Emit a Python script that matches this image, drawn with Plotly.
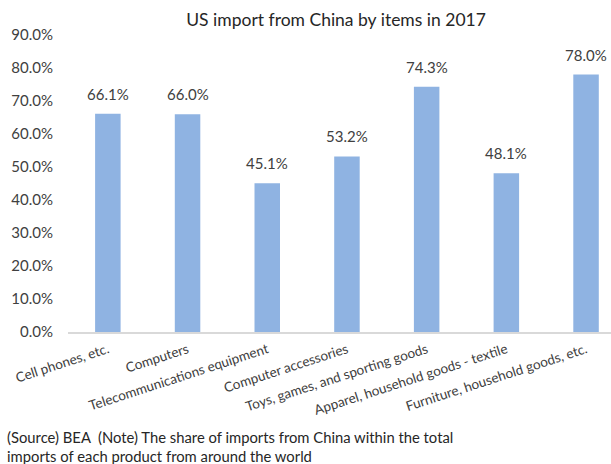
import plotly.graph_objects as go

categories = [
    "Cell phones, etc.",
    "Computers",
    "Telecommunications equipment",
    "Computer accessories",
    "Toys, games, and sporting goods",
    "Apparel, household goods - textile",
    "Furniture, household goods, etc.",
]
shares = [66.1, 66.0, 45.1, 53.2, 74.3, 48.1, 78.0]
y_ticks = [0, 10, 20, 30, 40, 50, 60, 70, 80, 90]
y_tick_labels = [f"{v:.1f}%" for v in y_ticks]

FONT = "Lato"
TEXT = "#404040"

xs = list(range(len(categories)))

fig = go.Figure(
    go.Bar(
        x=xs,
        y=shares,
        width=0.32,
        marker=dict(color="#8FB3E2", line=dict(width=0)),
        hoverinfo="skip",
    )
)

W, H = 611, 464
L, R, T, B = 68, 0, 35, 132
plot_w = W - L - R
cat_px = 79.7
x_max = -0.5 + plot_w / cat_px

# value labels above each bar
value_labels = [
    dict(
        x=x,
        y=v,
        xref="x",
        yref="y",
        text=f"{v:.1f}%",
        showarrow=False,
        yanchor="bottom",
        yshift=9,
        font=dict(family=FONT, size=15, color=TEXT),
    )
    for x, v in zip(xs, shares)
]

footnote = dict(
    text="(Source) BEA  (Note) The share of imports from China within the total<br>imports of each product from around the world",
    xref="paper",
    yref="paper",
    x=-(L - 5) / plot_w,
    y=-(426 - (H - B)) / (H - T - B),
    xanchor="left",
    yanchor="top",
    align="left",
    showarrow=False,
    font=dict(family=FONT, size=14.8, color="#262626"),
)

fig.update_layout(
    width=W,
    height=H,
    margin=dict(l=L, r=R, t=T, b=B, pad=0),
    paper_bgcolor="white",
    plot_bgcolor="white",
    showlegend=False,
    font=dict(family=FONT, size=14, color=TEXT),
    title=dict(
        text="US import from China by items in 2017",
        font=dict(family=FONT, size=17.5, color="#262626"),
        x=0.55,
        xanchor="center",
        y=1 - 20 / H,
        yanchor="middle",
    ),
    xaxis=dict(
        range=[-0.5, x_max],
        tickmode="array",
        tickvals=xs,
        ticktext=categories,
        tickangle=-18,
        showgrid=False,
        zeroline=False,
        showline=True,
        linecolor="#D9D9D9",
        linewidth=1.5,
        ticks="",
        ticklabelstandoff=3,
        tickfont=dict(family=FONT, size=13.5, color=TEXT),
    ),
    yaxis=dict(
        range=[0, 90],
        tickmode="array",
        tickvals=y_ticks,
        ticktext=y_tick_labels,
        showgrid=False,
        zeroline=False,
        showline=False,
        ticks="",
        ticklabelstandoff=14,
        tickfont=dict(family=FONT, size=15, color=TEXT),
    ),
    annotations=value_labels + [footnote],
)

fig.write_html("out.html")
